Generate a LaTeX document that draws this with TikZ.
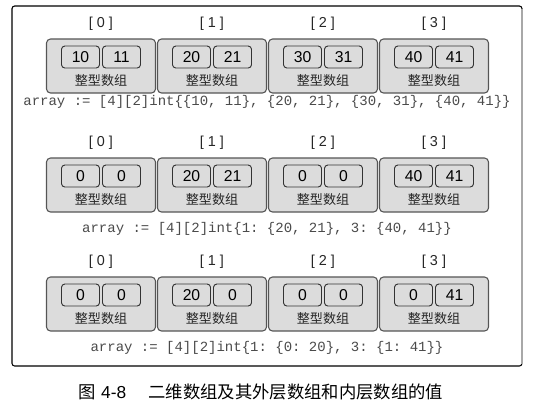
\documentclass[tikz,border=0pt]{standalone}
\usepackage{fontspec}
\setmainfont{Liberation Sans}
\setmonofont{Liberation Mono}
\newfontfamily\cjk{Noto Sans CJK SC}
\usepackage{xcolor}
\usetikzlibrary{positioning}
\definecolor{boxfill}{HTML}{DCDCDC}
\definecolor{boxline}{HTML}{555555}
\definecolor{codetext}{HTML}{4A4A4A}
\definecolor{frameside}{HTML}{A8A8A8}
\tikzset{
  outer/.style={draw=boxline, fill=boxfill, rounded corners=3pt, line width=0.8pt,
    minimum width=81.75pt, minimum height=40.5pt, inner sep=0pt},
  cell/.style={draw=black!80, fill=boxfill, rounded corners=2.5pt, line width=0.7pt,
    minimum width=28.5pt, minimum height=16.5pt, inner sep=0pt, font=\fontsize{11.8}{12}\selectfont},
  kind/.style={font=\cjk\fontsize{9.8}{11}\selectfont, text=black!85},
  idx/.style={font=\fontsize{10.8}{12}\selectfont, text=black!85},
  code/.style={font=\ttfamily\fontsize{10.5}{12}\selectfont, text=codetext},
  caption/.style={font=\fontsize{13}{15}\selectfont},
}
% one row of the outer array: #1 row name, #2 top of the boxes, #3 value pairs
\newcommand{\arrayrow}[3]{%
  \foreach \a/\b [count=\i from 0] in {#3} {
    \node[outer] (#1-\i) at ({101+111*\i},{#2+27}) {};
    \node[idx] (#1-\i-idx) at ({101+111*\i},{#2-15}) {[ \i\ ]};
    \node[cell] (#1-\i-a) at ({80.5+111*\i},{#2+18}) {\a};
    \node[cell] (#1-\i-b) at ({121.5+111*\i},{#2+18}) {\b};
    \node[kind] (#1-\i-kind) at ({101+111*\i},{#2+42}) {整型数组};
  }}

\begin{document}
\begin{tikzpicture}[x=0.75pt, y=-0.75pt]
  \useasboundingbox (0,0) rectangle (539,408);
  % frame round the three examples
  \draw[line width=0.8pt, rounded corners=2pt] (12,6) rectangle (522,366);
  \draw[frameside, line width=1.6pt] (522,9) -- (522,364);
  \arrayrow{full}{39}{10/11,20/21,30/31,40/41}
  \node[code] (code-full) at (267,102) {array := [4][2]int\{\{10, 11\}, \{20, 21\}, \{30, 31\}, \{40, 41\}\}};
  \arrayrow{part}{158}{0/0,20/21,0/0,40/41}
  \node[code] (code-part) at (267,229) {array := [4][2]int\{1: \{20, 21\}, 3: \{40, 41\}\}};
  \arrayrow{sparse}{277}{0/0,20/0,0/0,0/41}
  \node[code] (code-sparse) at (267,348) {array := [4][2]int\{1: \{0: 20\}, 3: \{1: 41\}\}};
  \node[caption] (cap) at (261,392) {{\cjk 图} 4-8\quad\ {\cjk 二维数组及其外层数组和内层数组的值}};
\end{tikzpicture}
\end{document}
